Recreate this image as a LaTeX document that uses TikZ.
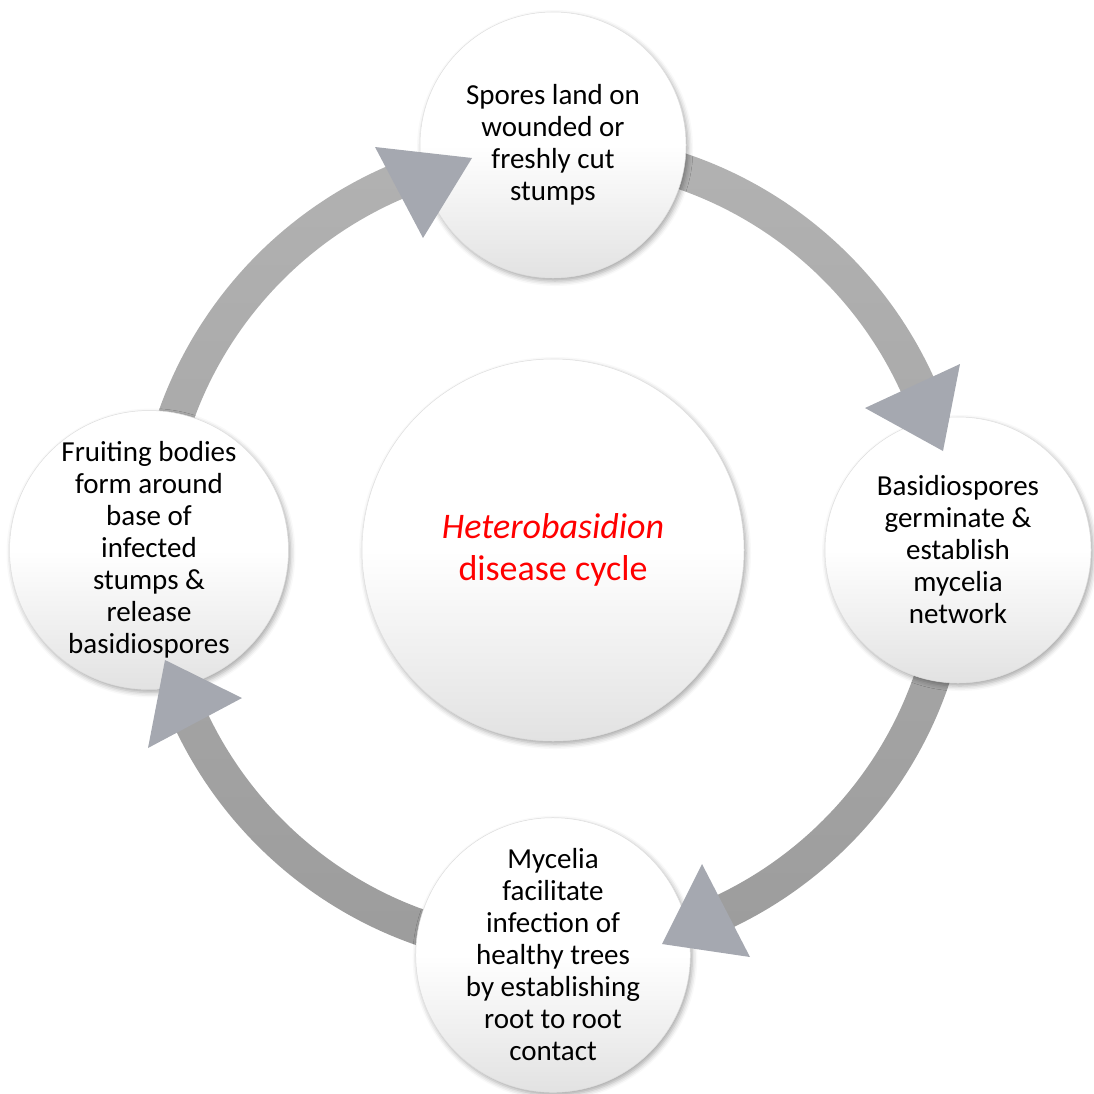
\documentclass[tikz,border=0pt]{standalone}
\usepackage{fontspec}
\setmainfont{Carlito}
\usetikzlibrary{shadows.blur}
\definecolor{ringlight}{RGB}{178,178,178}
\definecolor{ringdark}{RGB}{156,156,156}
\definecolor{headfill}{RGB}{165,168,176}
\definecolor{rimgray}{RGB}{222,222,222}
\definecolor{discbottom}{RGB}{226,226,226}
\begin{document}
\begin{tikzpicture}[x=1pt,y=1pt,
  disc/.style={circle, inner sep=0pt, draw=rimgray, line width=0.5pt,
    top color=white, bottom color=discbottom, middle color=white,
    blur shadow={shadow xshift=2pt, shadow yshift=-3pt,
      shadow blur radius=5pt, shadow opacity=35},
    align=center},
  stage/.style={disc, minimum size=266pt, font=\fontsize{29}{32}\selectfont},
  hub/.style={disc, minimum size=382pt, font=\fontsize{36}{42}\selectfont, text=red},
  head/.style={fill=headfill}]
\useasboundingbox (0,0) rectangle (1094,-1093);
\coordinate (c) at (553,-550);

% ring that carries the cycle, behind the stages
\path[even odd rule, top color=ringlight, bottom color=ringdark]
  (c) circle (418) (c) circle (382);

% stages of the cycle
\node[stage] (spores) at (553,-145) {Spores land on\\wounded or\\freshly cut\\stumps};
\node[stage] (germ) at (958,-550) {Basidiospores\\germinate \&\\establish\\mycelia\\network};
\node[stage] (infect) at (553,-955) {Mycelia\\facilitate\\infection of\\healthy trees\\by establishing\\root to root\\contact};
\node[stage] (fruit) at (149,-550) {Fruiting bodies\\form around\\base of\\infected\\stumps \&\\release\\basidiospores};

% centre title
\node[hub] (cycle) at (c) {\textit{Heterobasidion}\\disease cycle};

% arrow heads, clockwise
\fill[head] (472,-158) -- (375,-147) -- (423,-238) -- cycle;
\fill[head] (943,-451) -- (960,-364) -- (865,-408) -- cycle;
\fill[head] (662,-944) -- (750,-957) -- (702,-864) -- cycle;
\fill[head] (165,-660) -- (148,-748) -- (242,-698) -- cycle;
\end{tikzpicture}
\end{document}
